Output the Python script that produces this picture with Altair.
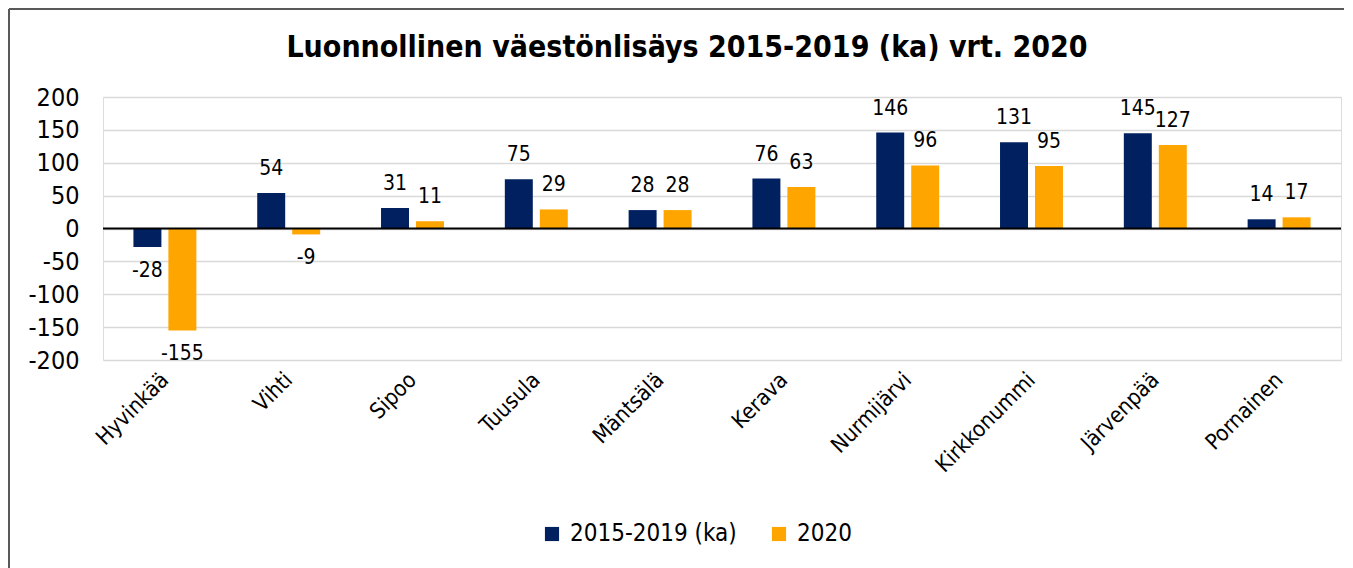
import altair as alt
import pandas as pd

kunnat = ["Hyvinkää", "Vihti", "Sipoo", "Tuusula", "Mäntsälä", "Kerava",
          "Nurmijärvi", "Kirkkonummi", "Järvenpää", "Pornainen"]
sarjat = ["2015-2019 (ka)", "2020"]
ka_2015_2019 = [-28, 54, 31, 75, 28, 76, 146, 131, 145, 14]
v_2020 = [-155, -9, 11, 29, 28, 63, 96, 95, 127, 17]
y_ticks = [-200, -150, -100, -50, 0, 50, 100, 150, 200]
varit = ["#002060", "#FFA500"]
otsikko = "Luonnollinen väestönlisäys 2015-2019 (ka) vrt. 2020"

rows = []
for k, a, b in zip(kunnat, ka_2015_2019, v_2020):
    rows.append({"kunta": k, "sarja": sarjat[0], "arvo": a})
    rows.append({"kunta": k, "sarja": sarjat[1], "arvo": b})
df = pd.DataFrame(rows)

FONT = "DejaVu Sans Condensed, DejaVu Sans"

x_enc = alt.X("kunta:N", sort=kunnat, title=None,
              scale=alt.Scale(paddingInner=0, paddingOuter=0),
              axis=alt.Axis(labelAngle=-45, labelAlign="right", labelBaseline="middle",
                            labelPadding=16, domain=False, ticks=False, grid=False,
                            labelFontSize=22, labelColor="#000000", labelFont=FONT,
                            labelOverlap=False, labelLimit=0))
xo_enc = alt.XOffset("sarja:N", sort=sarjat,
                     scale=alt.Scale(paddingInner=0.2, paddingOuter=0.87))
y_scale = alt.Scale(domain=[-200, 200], nice=False)
y_axis = alt.Axis(values=y_ticks, domain=False, ticks=False, labelPadding=24,
                  labelExpr="'' + datum.value", labelOverlap=False,
                  labelFontSize=25, labelColor="#000000", labelFont=FONT,
                  gridColor="#d9d9d9", gridWidth=1.5)

base = alt.Chart(df).transform_calculate(lbl="'' + datum.arvo").encode(x=x_enc, xOffset=xo_enc)

bars = base.mark_bar().encode(
    y=alt.Y("arvo:Q", scale=y_scale, title=None, axis=y_axis),
    color=alt.Color("sarja:N", sort=sarjat,
                    scale=alt.Scale(domain=sarjat, range=varit),
                    legend=alt.Legend(title=None, orient="none", direction="horizontal",
                                      legendX=437, legendY=425, symbolType="square",
                                      symbolSize=200, symbolStrokeWidth=0,
                                      labelFontSize=24, labelFont=FONT, labelLimit=0,
                                      labelColor="#000000", columnPadding=30,
                                      labelOffset=6)),
)

pos = base.transform_filter("datum.arvo >= 0").mark_text(
    baseline="middle", dy=-24, fontSize=21, font=FONT, color="#000000"
).encode(y=alt.Y("arvo:Q", scale=y_scale, title=None, axis=y_axis), text=alt.Text("lbl:N"))

neg = base.transform_filter("datum.arvo < 0").mark_text(
    baseline="middle", dy=24, fontSize=21, font=FONT, color="#000000"
).encode(y=alt.Y("arvo:Q", scale=y_scale, title=None, axis=y_axis), text=alt.Text("lbl:N"))

zero = alt.Chart(pd.DataFrame({"z": [0]})).mark_rule(color="#000000", strokeWidth=2).encode(
    y=alt.Y("z:Q", scale=y_scale, title=None, axis=y_axis)
)

one = pd.DataFrame({"t": [otsikko]})
title_mark = alt.Chart(one).mark_text(
    fontSize=30, font=FONT, fontWeight="bold", color="#000000",
    align="center", baseline="alphabetic"
).encode(x=alt.value(584), y=alt.value(-40), text="t:N")

border_top = alt.Chart(one).mark_rule(color="#595959", strokeWidth=2).encode(
    x=alt.value(-94), x2=alt.value(1241), y=alt.value(-88)
)
border_left = alt.Chart(one).mark_rule(color="#595959", strokeWidth=2).encode(
    x=alt.value(-94), y=alt.value(-88), y2=alt.value(480)
)

chart = alt.layer(bars, zero, pos, neg, title_mark, border_top, border_left).properties(
    width=1238, height=263,
    padding=0,
).configure_view(stroke=None).configure(background="#ffffff")

chart.save("out.html", embed_options={"renderer": "svg", "actions": False})
